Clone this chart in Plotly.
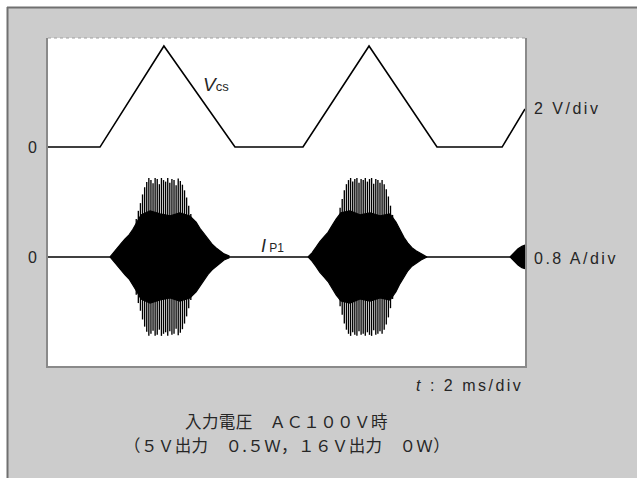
import plotly.graph_objects as go

# ---- scope settings -------------------------------------------------------
T_RANGE = [0, 20]          # ms, 10 div x 2 ms/div
DIV_RANGE = [0, 8]         # vertical divisions
V_PER_DIV = 2.0            # Vcs scale
A_PER_DIV = 0.8            # Ip1 scale
VCS_ZERO_DIV = 5.34        # channel 1 ground marker
IP_ZERO_DIV = 2.66         # channel 2 ground marker

# ---- Vcs waveform (corner points, ms / V) ---------------------------------
vcs_t = [0.0, 2.18, 4.86, 7.84, 10.69, 13.46, 16.31, 19.04, 20.0]
vcs_v = [0.0, 0.0, 4.93, 0.0, 0.0, 4.93, 0.0, 0.0, 1.86]

# ---- Ip1 waveform ----------------------------------------------------------
ip_base_t = [0.0, 20.0]
ip_base_a = [0.0, 0.0]

# dense part of each switching burst: envelope (ms / A)
burst1_env_t = [2.60, 2.73, 2.89, 3.06, 3.23, 3.40, 3.56, 3.73, 3.90, 4.28, 4.70,
                5.12, 5.53, 5.95, 6.21, 6.37, 6.54, 6.71, 6.88, 7.04, 7.21, 7.38, 7.59]
burst1_env_a = [0.00, 0.08, 0.17, 0.26, 0.35, 0.43, 0.54, 0.68, 0.82, 0.90, 0.84,
                0.80, 0.86, 0.80, 0.68, 0.56, 0.45, 0.34, 0.25, 0.18, 0.12, 0.06, 0.02]

burst2_env_t = [10.90, 11.07, 11.24, 11.40, 11.57, 11.74, 11.91, 12.08, 12.28, 12.66, 13.08,
                13.50, 13.92, 14.34, 14.59, 14.76, 14.93, 15.09, 15.26, 15.43, 15.64, 15.89]
burst2_env_a = [0.00, 0.08, 0.19, 0.30, 0.39, 0.48, 0.61, 0.74, 0.86, 0.90, 0.82,
                0.86, 0.80, 0.84, 0.68, 0.52, 0.38, 0.27, 0.18, 0.12, 0.06, 0.00]

burst3_env_t = [19.37, 19.54, 19.71, 19.87, 20.0]
burst3_env_a = [0.00, 0.08, 0.16, 0.21, 0.23]

# peak current of the individual switching cycles in the burst core (A)
SW_PERIOD = 0.088  # ms between visible cycles
burst1_cyc_start = 3.70
burst1_cyc_a = [0.74, 0.90, 1.05, 1.22, 1.36, 1.46, 1.54, 1.50, 1.44, 1.54, 1.52, 1.42, 1.54, 1.50,
                1.47, 1.54, 1.45, 1.52, 1.50, 1.40, 1.53, 1.48, 1.41, 1.30, 1.16, 1.00, 0.84, 0.72]
burst2_cyc_start = 12.16
burst2_cyc_a = [0.78, 0.96, 1.13, 1.30, 1.42, 1.50, 1.54, 1.47, 1.52, 1.54, 1.45, 1.52, 1.50, 1.54,
                1.47, 1.52, 1.54, 1.43, 1.52, 1.50, 1.45, 1.50, 1.42, 1.32, 1.18, 1.00, 0.82, 0.70]

# ---- page geometry ---------------------------------------------------------
W, H = 637, 478
ML, MR, MT, MB = 48, 112, 38, 112
PW, PH = W - ML - MR, H - MT - MB


def px_x(px):
    return (px - ML) / PW


def px_y(py):
    return (H - MB - py) / PH


def vcs_div(v):
    return VCS_ZERO_DIV + v / V_PER_DIV


def ip_div(a):
    return IP_ZERO_DIV + a / A_PER_DIV


fig = go.Figure()

# Vcs trace
fig.add_trace(go.Scatter(x=vcs_t, y=[vcs_div(v) for v in vcs_v], mode="lines",
                         line=dict(color="black", width=1.6), hoverinfo="skip"))

# Ip1 baseline
fig.add_trace(go.Scatter(x=ip_base_t, y=[ip_div(a) for a in ip_base_a], mode="lines",
                         line=dict(color="black", width=1.5), hoverinfo="skip"))

# dense burst envelopes (solid)
for et, ea in [(burst1_env_t, burst1_env_a), (burst2_env_t, burst2_env_a),
               (burst3_env_t, burst3_env_a)]:
    xs = et + et[::-1]
    ys = [ip_div(a) for a in ea] + [ip_div(-a) for a in ea[::-1]]
    fig.add_trace(go.Scatter(x=xs, y=ys, mode="lines", fill="toself", fillcolor="black",
                             line=dict(color="black", width=1.2), hoverinfo="skip"))

# individual switching cycles
cx, cy = [], []
for start, amps in [(burst1_cyc_start, burst1_cyc_a), (burst2_cyc_start, burst2_cyc_a)]:
    for i, a in enumerate(amps):
        t = start + i * SW_PERIOD
        cx += [t, t, None]
        cy += [ip_div(-a), ip_div(a), None]
fig.add_trace(go.Scatter(x=cx, y=cy, mode="lines", line=dict(color="black", width=1.35),
                         hoverinfo="skip"))

LAT = "Liberation Sans, Arial, sans-serif"
CJK = "Noto Sans CJK JP, sans-serif"
TXT = "#262626"


def spaced(s, sp=2.5):
    return f'<span style="letter-spacing:{sp}px">{s}</span>'


ann = [
    dict(text="<i>V</i><span style='font-size:13px'>cs</span>", x=6.4, y=6.86,
         xref="x", yref="y", xanchor="left", yanchor="middle",
         font=dict(family=LAT, size=19, color=TXT)),
    dict(text="<i>I</i><span style='font-size:12px'> P1</span>", x=8.85, y=2.93,
         xref="x", yref="y", xanchor="left", yanchor="middle",
         font=dict(family=LAT, size=18, color=TXT)),
    dict(text=spaced("2 V/div"), x=1, y=px_y(109), xref="paper", yref="paper",
         xanchor="left", yanchor="middle", xshift=7, align="left",
         font=dict(family=LAT, size=16, color=TXT)),
    dict(text=spaced("0.8 A/div"), x=1, y=px_y(258), xref="paper", yref="paper",
         xanchor="left", yanchor="middle", xshift=7, align="left",
         font=dict(family=LAT, size=16, color=TXT)),
    dict(text=spaced("<i>t</i> : 2 ms/div"), x=1, y=px_y(385), xref="paper", yref="paper",
         xanchor="right", yanchor="middle", xshift=0, align="right",
         font=dict(family=LAT, size=16, color=TXT)),
    dict(text=spaced("入力電圧　ＡＣ１００Ｖ時", 0.4), x=0.5, y=px_y(421), xref="paper",
         yref="paper", xanchor="center", yanchor="middle",
         font=dict(family=CJK, size=16.5, color=TXT)),
    dict(text=spaced("（５Ｖ出力　０.５Ｗ，１６Ｖ出力　０Ｗ）", 0.4), x=0.5, y=px_y(445),
         xref="paper", yref="paper", xanchor="center", yanchor="middle",
         font=dict(family=CJK, size=16.5, color=TXT)),
]
for a in ann:
    a["showarrow"] = False

shapes = [
    # white margin strips outside the grey panel
    dict(type="rect", xref="paper", yref="paper", x0=px_x(0), x1=px_x(W), y0=px_y(7),
         y1=px_y(0), fillcolor="white", line=dict(width=0), layer="below"),
    dict(type="rect", xref="paper", yref="paper", x0=px_x(0), x1=px_x(7), y0=px_y(H),
         y1=px_y(0), fillcolor="white", line=dict(width=0), layer="below"),
    # panel edge
    dict(type="line", xref="paper", yref="paper", x0=px_x(7), x1=px_x(W), y0=px_y(7.5),
         y1=px_y(7.5), line=dict(color="#707070", width=2)),
    dict(type="line", xref="paper", yref="paper", x0=px_x(7.5), x1=px_x(7.5), y0=px_y(7),
         y1=px_y(H), line=dict(color="#707070", width=2)),
    # dotted top edge of the screen
    dict(type="line", xref="paper", yref="paper", x0=0, x1=1, y0=1, y1=1,
         line=dict(color="#a0a0a0", width=1.2, dash="dot")),
]

fig.update_layout(
    width=W, height=H,
    margin=dict(l=ML, r=MR, t=MT, b=MB),
    paper_bgcolor="#cccccc", plot_bgcolor="white",
    showlegend=False,
    annotations=ann, shapes=shapes,
    xaxis=dict(range=T_RANGE, showgrid=False, zeroline=False, showticklabels=False,
               ticks="", showline=True, linecolor="#8a8a8a", linewidth=2, fixedrange=True),
    yaxis=dict(range=DIV_RANGE, showgrid=False, zeroline=False, ticks="",
               tickvals=[VCS_ZERO_DIV, IP_ZERO_DIV], ticktext=["0", "0"],
               tickfont=dict(family=LAT, size=16, color=TXT), ticklabelstandoff=6,
               showline=True, mirror=True, linecolor="#8a8a8a", linewidth=2,
               fixedrange=True),
)

fig.write_html("out.html", config={"displayModeBar": False})
